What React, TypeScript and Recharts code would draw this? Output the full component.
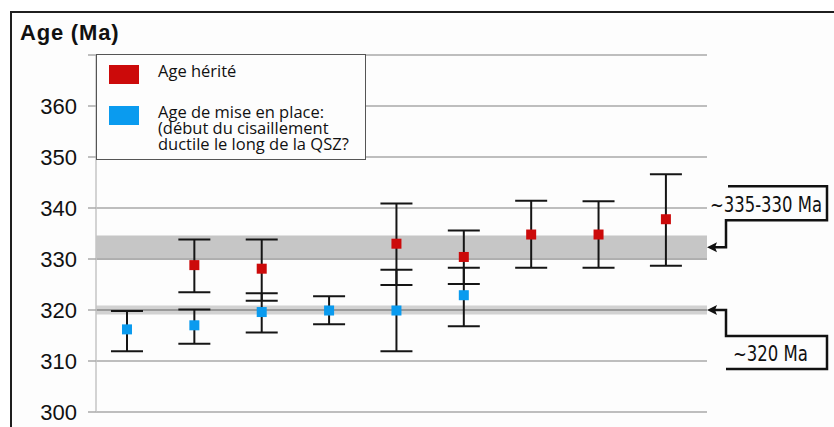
import { ComposedChart, Scatter, ErrorBar, XAxis, YAxis, CartesianGrid, ReferenceArea, ReferenceLine, Legend } from "recharts"

// sample positions along the shear zone
const categories = [1, 2, 3, 4, 5, 6, 7, 8, 9]

// inherited ages (Ma) with 2-sigma bounds
const inheritedAge = [null, 328.8, 328.1, null, 333.0, 330.4, 334.8, 334.8, 337.8]
const inheritedLow = [null, 323.5, 321.8, null, 324.9, 325.1, 328.3, 328.3, 328.7]
const inheritedHigh = [null, 333.8, 333.8, null, 340.9, 335.6, 341.4, 341.3, 346.6]

// emplacement ages (Ma)
const emplacementAge = [316.2, 317.0, 319.6, 319.9, 319.9, 322.9, null, null, null]
const emplacementLow = [311.9, 313.4, 315.6, 317.2, 311.9, 316.8, null, null, null]
const emplacementHigh = [319.8, 320.1, 323.3, 322.7, 327.9, 328.3, null, null, null]

const yTicks = [300, 310, 320, 330, 340, 350, 360, 370]

// shaded age bands
const bandLow = [330, 319.1]
const bandHigh = [334.6, 320.9]
const bandFill = ["#c6c6c6", "#d2d2d2"]

// callouts on the right
const calloutAt = [332.3, 320]
const calloutText = ["~335-330 Ma", "~320 Ma"]
const calloutWidth = [112, 75]

const RED = "#cc0a0a"
const BLUE = "#0a9bef"
const FONT = "'Liberation Sans', Arial, sans-serif"
const NARROW = "'Liberation Sans Narrow', 'DejaVu Sans Condensed', 'Liberation Sans', sans-serif"

function build(values: (number | null)[], lows: (number | null)[], highs: (number | null)[]) {
  return categories.flatMap((c, i) => {
    const v = values[i]
    if (v == null) return []
    return [{ x: c, age: v, err: [v - (lows[i] as number), (highs[i] as number) - v] }]
  })
}

const inheritedData = build(inheritedAge, inheritedLow, inheritedHigh)
const emplacementData = build(emplacementAge, emplacementLow, emplacementHigh)

const Square = (color: string) => (props: any) => {
  const { cx, cy } = props
  return <rect x={cx - 5} y={cy - 5} width={10} height={10} fill={color} />
}

const YTick = (props: any) => {
  const { x, y, payload } = props
  if (payload.value === 370) return <g />
  return (
    <text x={x} y={y} dy="0.36em" textAnchor="end" fontSize={22} fill="#111" fontFamily={FONT}>
      {payload.value}
    </text>
  )
}

function Callout(idx: number) {
  return (props: any) => {
    const vb = props.viewBox
    const tx = vb.x + vb.width
    const ty = vb.y
    const up = idx === 0
    const d = up
      ? `M${tx + 8},${ty} H${tx + 19} V${ty - 27} H${tx + 120} V${ty - 61} H${tx + 21}`
      : `M${tx + 8},${ty} H${tx + 19} V${ty + 26} H${tx + 120} V${ty + 59} H${tx + 19}`
    return (
      <g>
        <path d={d} fill="none" stroke="#111" strokeWidth={2.5} />
        <path d={`M${tx},${ty} L${tx + 10},${ty - 5} L${tx + 8},${ty} L${tx + 10},${ty + 5} Z`} fill="#111" />
        <text
          x={up ? tx + 3 : tx + 26}
          y={up ? ty - 35 : ty + 51}
          fontSize={22}
          fontFamily={NARROW}
          fill="#111"
          textLength={calloutWidth[idx]}
          lengthAdjust="spacingAndGlyphs"
        >
          {calloutText[idx]}
        </text>
      </g>
    )
  }
}

const LegendBox = (props: any) => {
  const items = [...(props.payload || [])].sort((a: any, b: any) => (a.color === RED ? -1 : 0) - (b.color === RED ? -1 : 0))
  return (
    <div
      style={{
        width: 268,
        height: 104,
        border: "1.5px solid #555",
        background: "#fdfdfd",
        fontFamily: "'Open Sans', sans-serif",
        fontSize: 16.5,
        color: "#111",
        position: "relative",
      }}
    >
      {items.map((it: any, i: number) => (
        <div key={i} style={{ position: "absolute", left: 12, top: i === 0 ? 10 : 51, display: "flex" }}>
          <div style={{ width: 30, height: 19, background: it.color, flexShrink: 0 }} />
          <div style={{ marginLeft: 19, marginTop: -2, lineHeight: "16px", whiteSpace: "pre-line" }}>{it.value}</div>
        </div>
      ))}
    </div>
  )
}

const Title = (props: any) => {
  const vb = props.viewBox
  return (
    <text x={20} y={vb.y - 15} fontSize={22} fontWeight="bold" fontFamily={FONT} fill="#111" letterSpacing={0.8}>
      Age (Ma)
    </text>
  )
}

export default function App() {
  return (
    <div style={{ position: "absolute", left: 0, top: 0, width: 834, height: 427, background: "#fff", overflow: "hidden" }}>
      <div
        style={{
          position: "absolute",
          left: 10,
          top: 11,
          right: 0,
          bottom: 0,
          borderTop: "2px solid #1e1e1e",
          borderLeft: "2px solid #1e1e1e",
          background: "#fdfdfd",
        }}
      />
      <ComposedChart width={834} height={427} margin={{ top: 55, right: 127, bottom: 15, left: 0 }}>
        <CartesianGrid vertical={false} stroke="#a8a8a8" strokeWidth={1.5} />
        <XAxis
          type="number"
          dataKey="x"
          domain={[0.54, 9.61]}
          height={0}
          tick={false}
          tickLine={false}
          axisLine={{ stroke: "#999", strokeWidth: 1.5 }}
          allowDataOverflow
        />
        <YAxis
          type="number"
          domain={[300, 370]}
          ticks={yTicks}
          width={96}
          tickSize={8}
          tickMargin={11}
          tick={YTick}
          tickLine={{ stroke: "#aaa", strokeWidth: 1.5 }}
          axisLine={{ stroke: "#c4c4c4", strokeWidth: 1.5 }}
          label={<Title />}
        />
        <YAxis
          yAxisId="frame"
          orientation="right"
          width={0}
          domain={[300, 370]}
          tick={false}
          tickLine={false}
          axisLine={{ stroke: "#aaa", strokeWidth: 1.5 }}
        />
        {bandLow.map((lo, i) => (
          <ReferenceArea key={i} y1={lo} y2={bandHigh[i]} fill={bandFill[i]} fillOpacity={1} stroke="none" />
        ))}
        <ReferenceLine y={320} stroke="#9a9a9a" strokeWidth={2} />
        <ReferenceLine y={330} stroke="#a8a8a8" strokeWidth={1.5} />
        {calloutAt.map((v, i) => (
          <ReferenceLine key={"c" + i} y={v} stroke="none" ifOverflow="visible" label={Callout(i)} />
        ))}
        <Legend
          layout="vertical"
          align="center"
          verticalAlign="middle"
          wrapperStyle={{ left: 96, top: 54, width: 271 }}
          content={<LegendBox />}
        />
        <Scatter
          name="Age hérité"
          data={inheritedData}
          dataKey="age"
          fill={RED}
          shape={Square(RED)}
          isAnimationActive={false}
        >
          <ErrorBar dataKey="err" direction="y" width={16} stroke="#151515" strokeWidth={2} />
        </Scatter>
        <Scatter
          name={"Age de mise en place:\n(début du cisaillement\nductile le long de la QSZ?"}
          data={emplacementData}
          dataKey="age"
          fill={BLUE}
          shape={Square(BLUE)}
          isAnimationActive={false}
        >
          <ErrorBar dataKey="err" direction="y" width={16} stroke="#151515" strokeWidth={2} />
        </Scatter>
      </ComposedChart>
    </div>
  )
}
